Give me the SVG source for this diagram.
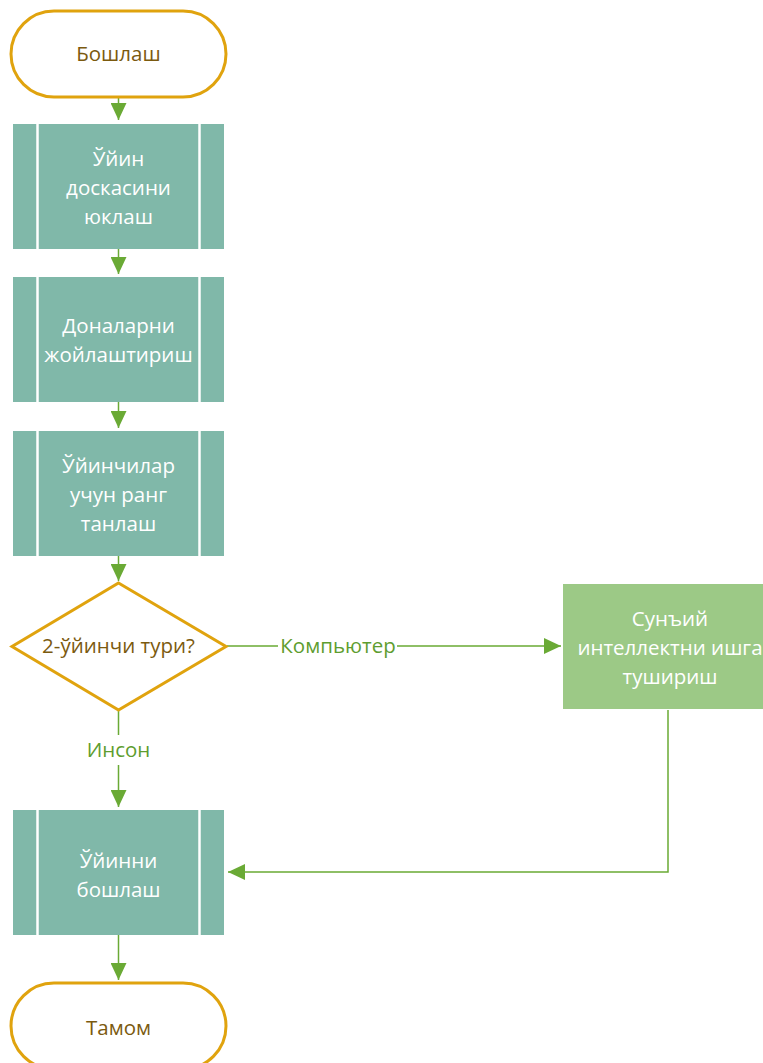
<svg xmlns="http://www.w3.org/2000/svg" width="763" height="1063" viewBox="0 0 763 1063">
  <defs>
    <marker id="arrow" viewBox="0 0 17 16" markerWidth="17" markerHeight="16" refX="17" refY="8" orient="auto" markerUnits="userSpaceOnUse">
      <path d="M0,0 L17,8 L0,16 Z" fill="#6AAA35"/>
    </marker>
    <style>
      text { font-family: "Open Sans", "Noto Sans", "Liberation Sans", sans-serif; font-size: 20.5px; text-anchor: middle; }
      .term { fill: #ffffff; stroke: #E0A30E; stroke-width: 3; }
      .term-text { fill: #7B5A0F; }
      .proc { fill: #80B8A9; }
      .bar { stroke: #ffffff; stroke-width: 2.5; }
      .proc-text { fill: #ffffff; }
      .ai { fill: #9CC986; }
      .dec { fill: #ffffff; stroke: #E0A30E; stroke-width: 3; stroke-linejoin: miter; }
      .edge { fill: none; stroke: #6AAA35; stroke-width: 1.5; }
      .label { fill: #5E9D2F; }
    </style>
  </defs>

  <!-- connectors -->
  <g id="connectors">
    <path class="edge" d="M118.5,98 V120" marker-end="url(#arrow)"/>
    <path class="edge" d="M118.5,249 V274" marker-end="url(#arrow)"/>
    <path class="edge" d="M118.5,402 V428" marker-end="url(#arrow)"/>
    <path class="edge" d="M118.5,556 V581" marker-end="url(#arrow)"/>
    <path class="edge" d="M227,646 H278 M397,646 H561" marker-end="url(#arrow)"/>
    <path class="edge" d="M118.5,711 V735 M118.5,765 V807" marker-end="url(#arrow)"/>
    <path class="edge" d="M668,710 V872 H228" marker-end="url(#arrow)"/>
    <path class="edge" d="M118.5,935 V980" marker-end="url(#arrow)"/>
    <text class="label" x="338" y="653">Компьютер</text>
    <text class="label" x="118.5" y="757">Инсон</text>
  </g>

  <!-- start -->
  <g id="start">
    <rect class="term" x="11" y="11" width="215" height="86" rx="43"/>
    <text class="term-text" x="118.5" y="61">Бошлаш</text>
  </g>

  <!-- load board -->
  <g id="load-board">
    <rect class="proc" x="13" y="124" width="211" height="125"/>
    <line class="bar" x1="37.5" y1="124" x2="37.5" y2="249"/>
    <line class="bar" x1="199.5" y1="124" x2="199.5" y2="249"/>
    <text class="proc-text" x="118.5" y="166">Ўйин</text>
    <text class="proc-text" x="118.5" y="195">доскасини</text>
    <text class="proc-text" x="118.5" y="224">юклаш</text>
  </g>

  <!-- place pieces -->
  <g id="place-pieces">
    <rect class="proc" x="13" y="277" width="211" height="125"/>
    <line class="bar" x1="37.5" y1="277" x2="37.5" y2="402"/>
    <line class="bar" x1="199.5" y1="277" x2="199.5" y2="402"/>
    <text class="proc-text" x="118.5" y="333">Доналарни</text>
    <text class="proc-text" x="118.5" y="362">жойлаштириш</text>
  </g>

  <!-- choose colours -->
  <g id="choose-colours">
    <rect class="proc" x="13" y="431" width="211" height="125"/>
    <line class="bar" x1="37.5" y1="431" x2="37.5" y2="556"/>
    <line class="bar" x1="199.5" y1="431" x2="199.5" y2="556"/>
    <text class="proc-text" x="118.5" y="473">Ўйинчилар</text>
    <text class="proc-text" x="118.5" y="502">учун ранг</text>
    <text class="proc-text" x="118.5" y="531">танлаш</text>
  </g>

  <!-- decision -->
  <g id="player-type">
    <polygon class="dec" points="118.5,583 226,646.5 118.5,710 12,646.5"/>
    <text class="term-text" x="118.5" y="653">2-ўйинчи тури?</text>
  </g>

  <!-- AI -->
  <g id="start-ai">
    <rect class="ai" x="563" y="584" width="214" height="125"/>
    <text class="proc-text" x="670" y="626">Сунъий</text>
    <text class="proc-text" x="670" y="655">интеллектни ишга</text>
    <text class="proc-text" x="670" y="684">тушириш</text>
  </g>

  <!-- start game -->
  <g id="start-game">
    <rect class="proc" x="13" y="810" width="211" height="125"/>
    <line class="bar" x1="37.5" y1="810" x2="37.5" y2="935"/>
    <line class="bar" x1="199.5" y1="810" x2="199.5" y2="935"/>
    <text class="proc-text" x="118.5" y="868">Ўйинни</text>
    <text class="proc-text" x="118.5" y="897">бошлаш</text>
  </g>

  <!-- end -->
  <g id="end">
    <rect class="term" x="11" y="983" width="215" height="86" rx="43"/>
    <text class="term-text" x="118.5" y="1035">Тамом</text>
  </g>
</svg>
